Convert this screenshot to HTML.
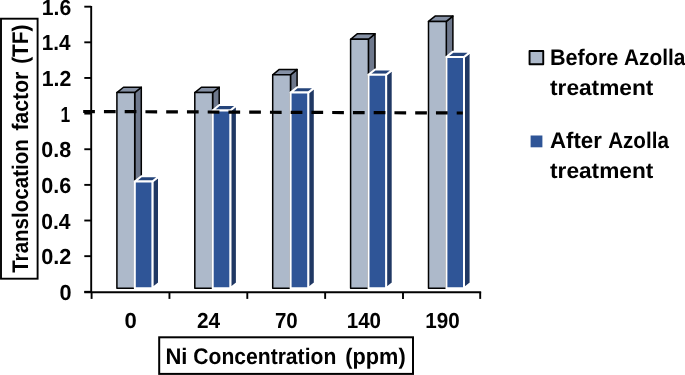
<!DOCTYPE html>
<html><head><meta charset="utf-8"><title>Translocation factor chart</title>
<style>
html,body{margin:0;padding:0;background:#fff;}
body{width:685px;height:375px;overflow:hidden;font-family:"Liberation Sans",sans-serif;}
svg{display:block;will-change:transform;opacity:0.999;filter:blur(0.4px);}
</style></head><body>
<svg width="685" height="375" viewBox="0 0 685 375" text-rendering="geometricPrecision">
<rect width="685" height="375" fill="#fff"/>
<g stroke="#000" stroke-width="1.9" fill="none">
<path d="M91.2 6 V292.95"/>
<path d="M84.3 292.2 H481.15"/>
<path d="M84.3 291.80 H91.2"/>
<path d="M84.3 256.16 H91.2"/>
<path d="M84.3 220.52 H91.2"/>
<path d="M84.3 184.88 H91.2"/>
<path d="M84.3 149.24 H91.2"/>
<path d="M84.3 113.60 H91.2"/>
<path d="M84.3 77.96 H91.2"/>
<path d="M84.3 42.32 H91.2"/>
<path d="M84.3 6.68 H91.2"/>
<path d="M91.60 292.2 V298.9"/>
<path d="M169.45 292.2 V298.9"/>
<path d="M247.30 292.2 V298.9"/>
<path d="M325.15 292.2 V298.9"/>
<path d="M403.00 292.2 V298.9"/>
<path d="M480.20 292.2 V298.9"/>
</g>
<path d="M134.70 92.61 L141.30 87.21 V282.90 L134.70 288.30 Z" fill="#6E788C" stroke="#000" stroke-width="1.5" stroke-linejoin="round"/>
<path d="M116.90 92.61 L123.50 87.21 H141.30 L134.70 92.61 Z" fill="#8590A4" stroke="#000" stroke-width="1.5" stroke-linejoin="round"/>
<path d="M116.90 92.61 H134.70 V288.30 H116.90 Z" fill="#ADB9CA" stroke="#000" stroke-width="1.5" stroke-linejoin="round"/>
<path d="M152.40 181.56 L159.00 176.16 V282.90 L152.40 288.30 Z" fill="#203864" stroke="#fff" stroke-width="2.0" stroke-linejoin="round"/>
<path d="M134.80 181.56 L141.40 176.16 H159.00 L152.40 181.56 Z" fill="#25447A" stroke="#fff" stroke-width="2.0" stroke-linejoin="round"/>
<path d="M134.80 181.56 H152.40 V288.30 H134.80 Z" fill="#2F5597" stroke="#fff" stroke-width="2.0" stroke-linejoin="round"/>
<path d="M212.60 92.61 L219.20 87.21 V282.90 L212.60 288.30 Z" fill="#6E788C" stroke="#000" stroke-width="1.5" stroke-linejoin="round"/>
<path d="M194.80 92.61 L201.40 87.21 H219.20 L212.60 92.61 Z" fill="#8590A4" stroke="#000" stroke-width="1.5" stroke-linejoin="round"/>
<path d="M194.80 92.61 H212.60 V288.30 H194.80 Z" fill="#ADB9CA" stroke="#000" stroke-width="1.5" stroke-linejoin="round"/>
<path d="M230.30 110.40 L236.90 105.00 V282.90 L230.30 288.30 Z" fill="#203864" stroke="#fff" stroke-width="2.0" stroke-linejoin="round"/>
<path d="M212.70 110.40 L219.30 105.00 H236.90 L230.30 110.40 Z" fill="#25447A" stroke="#fff" stroke-width="2.0" stroke-linejoin="round"/>
<path d="M212.70 110.40 H230.30 V288.30 H212.70 Z" fill="#2F5597" stroke="#fff" stroke-width="2.0" stroke-linejoin="round"/>
<path d="M290.50 74.82 L297.10 69.42 V282.90 L290.50 288.30 Z" fill="#6E788C" stroke="#000" stroke-width="1.5" stroke-linejoin="round"/>
<path d="M272.70 74.82 L279.30 69.42 H297.10 L290.50 74.82 Z" fill="#8590A4" stroke="#000" stroke-width="1.5" stroke-linejoin="round"/>
<path d="M272.70 74.82 H290.50 V288.30 H272.70 Z" fill="#ADB9CA" stroke="#000" stroke-width="1.5" stroke-linejoin="round"/>
<path d="M308.20 92.61 L314.80 87.21 V282.90 L308.20 288.30 Z" fill="#203864" stroke="#fff" stroke-width="2.0" stroke-linejoin="round"/>
<path d="M290.60 92.61 L297.20 87.21 H314.80 L308.20 92.61 Z" fill="#25447A" stroke="#fff" stroke-width="2.0" stroke-linejoin="round"/>
<path d="M290.60 92.61 H308.20 V288.30 H290.60 Z" fill="#2F5597" stroke="#fff" stroke-width="2.0" stroke-linejoin="round"/>
<path d="M368.40 39.24 L375.00 33.84 V282.90 L368.40 288.30 Z" fill="#6E788C" stroke="#000" stroke-width="1.5" stroke-linejoin="round"/>
<path d="M350.60 39.24 L357.20 33.84 H375.00 L368.40 39.24 Z" fill="#8590A4" stroke="#000" stroke-width="1.5" stroke-linejoin="round"/>
<path d="M350.60 39.24 H368.40 V288.30 H350.60 Z" fill="#ADB9CA" stroke="#000" stroke-width="1.5" stroke-linejoin="round"/>
<path d="M386.10 74.82 L392.70 69.42 V282.90 L386.10 288.30 Z" fill="#203864" stroke="#fff" stroke-width="2.0" stroke-linejoin="round"/>
<path d="M368.50 74.82 L375.10 69.42 H392.70 L386.10 74.82 Z" fill="#25447A" stroke="#fff" stroke-width="2.0" stroke-linejoin="round"/>
<path d="M368.50 74.82 H386.10 V288.30 H368.50 Z" fill="#2F5597" stroke="#fff" stroke-width="2.0" stroke-linejoin="round"/>
<path d="M446.30 21.45 L452.90 16.05 V282.90 L446.30 288.30 Z" fill="#6E788C" stroke="#000" stroke-width="1.5" stroke-linejoin="round"/>
<path d="M428.50 21.45 L435.10 16.05 H452.90 L446.30 21.45 Z" fill="#8590A4" stroke="#000" stroke-width="1.5" stroke-linejoin="round"/>
<path d="M428.50 21.45 H446.30 V288.30 H428.50 Z" fill="#ADB9CA" stroke="#000" stroke-width="1.5" stroke-linejoin="round"/>
<path d="M464.00 57.03 L470.60 51.63 V282.90 L464.00 288.30 Z" fill="#203864" stroke="#fff" stroke-width="2.0" stroke-linejoin="round"/>
<path d="M446.40 57.03 L453.00 51.63 H470.60 L464.00 57.03 Z" fill="#25447A" stroke="#fff" stroke-width="2.0" stroke-linejoin="round"/>
<path d="M446.40 57.03 H464.00 V288.30 H446.40 Z" fill="#2F5597" stroke="#fff" stroke-width="2.0" stroke-linejoin="round"/>
<path d="M83.2 111.5 L462.8 113.0" stroke="#000" stroke-width="3.2" stroke-dasharray="11.7 9.05" fill="none"/>
<text x="59.43" y="300.10" font-size="21.8" font-family="Liberation Sans, sans-serif" font-weight="700" textLength="12.06" lengthAdjust="spacingAndGlyphs" >0</text>
<text x="41.23" y="264.41" font-size="21.8" font-family="Liberation Sans, sans-serif" font-weight="700" textLength="30.14" lengthAdjust="spacingAndGlyphs" >0.2</text>
<text x="41.26" y="228.72" font-size="21.8" font-family="Liberation Sans, sans-serif" font-weight="700" textLength="29.35" lengthAdjust="spacingAndGlyphs" >0.4</text>
<text x="41.24" y="193.03" font-size="21.8" font-family="Liberation Sans, sans-serif" font-weight="700" textLength="30.02" lengthAdjust="spacingAndGlyphs" >0.6</text>
<text x="41.24" y="157.34" font-size="21.8" font-family="Liberation Sans, sans-serif" font-weight="700" textLength="29.91" lengthAdjust="spacingAndGlyphs" >0.8</text>
<text x="60.51" y="121.65" font-size="21.8" font-family="Liberation Sans, sans-serif" font-weight="700" textLength="9.69" lengthAdjust="spacingAndGlyphs" >1</text>
<text x="41.77" y="85.96" font-size="21.8" font-family="Liberation Sans, sans-serif" font-weight="700" textLength="29.59" lengthAdjust="spacingAndGlyphs" >1.2</text>
<text x="41.81" y="50.27" font-size="21.8" font-family="Liberation Sans, sans-serif" font-weight="700" textLength="28.8" lengthAdjust="spacingAndGlyphs" >1.4</text>
<text x="41.78" y="14.58" font-size="21.8" font-family="Liberation Sans, sans-serif" font-weight="700" textLength="29.47" lengthAdjust="spacingAndGlyphs" >1.6</text>
<text x="124.62" y="327.6" font-size="21.8" font-family="Liberation Sans, sans-serif" font-weight="700" textLength="12.29" lengthAdjust="spacingAndGlyphs" >0</text>
<text x="196.97" y="327.6" font-size="21.8" font-family="Liberation Sans, sans-serif" font-weight="700" textLength="23.18" lengthAdjust="spacingAndGlyphs" >24</text>
<text x="274.93" y="327.6" font-size="21.8" font-family="Liberation Sans, sans-serif" font-weight="700" textLength="22.84" lengthAdjust="spacingAndGlyphs" >70</text>
<text x="346.71" y="327.6" font-size="21.8" font-family="Liberation Sans, sans-serif" font-weight="700" textLength="34.33" lengthAdjust="spacingAndGlyphs" >140</text>
<text x="425.31" y="327.6" font-size="21.8" font-family="Liberation Sans, sans-serif" font-weight="700" textLength="34.44" lengthAdjust="spacingAndGlyphs" >190</text>
<rect x="159.2" y="337.3" width="253.8" height="36.6" fill="#fff" stroke="#000" stroke-width="2"/>
<text x="165.41" y="363.9" font-size="22.6" font-family="Liberation Sans, sans-serif" font-weight="700" textLength="22.03" lengthAdjust="spacingAndGlyphs" >Ni</text>
<text x="193.26" y="363.9" font-size="22.6" font-family="Liberation Sans, sans-serif" font-weight="700" textLength="143.02" lengthAdjust="spacingAndGlyphs" >Concentration</text>
<text x="345.31" y="363.9" font-size="22.6" font-family="Liberation Sans, sans-serif" font-weight="700" textLength="60.36" lengthAdjust="spacingAndGlyphs" >(ppm)</text>
<rect x="1.0" y="18.7" width="36.6" height="260" fill="#fff" stroke="#000" stroke-width="1.9"/>
<g transform="translate(27.85 0) rotate(-90)">
<text x="-272.81" y="0" font-size="22.6" font-family="Liberation Sans, sans-serif" font-weight="700" textLength="133.67" lengthAdjust="spacingAndGlyphs" >Translocation</text>
<text x="-130.47" y="0" font-size="22.6" font-family="Liberation Sans, sans-serif" font-weight="700" textLength="58.75" lengthAdjust="spacingAndGlyphs" >factor</text>
<text x="-63.84" y="0" font-size="22.6" font-family="Liberation Sans, sans-serif" font-weight="700" textLength="39.39" lengthAdjust="spacingAndGlyphs" >(TF)</text>
</g>
<rect x="529.55" y="50.95" width="13.7" height="13.3" fill="#ADB9CA" stroke="#000" stroke-width="1.9" stroke-linejoin="round"/>
<text x="550.05" y="65.2" font-size="22.6" font-family="Liberation Sans, sans-serif" font-weight="700" textLength="68.26" lengthAdjust="spacingAndGlyphs" >Before</text>
<text x="623.88" y="65.2" font-size="22.6" font-family="Liberation Sans, sans-serif" font-weight="700" textLength="61.56" lengthAdjust="spacingAndGlyphs" >Azolla</text>
<text x="550.02" y="94.6" font-size="22.0" font-family="Liberation Sans, sans-serif" font-weight="700" textLength="103.25" lengthAdjust="spacingAndGlyphs" >treatment</text>
<rect x="530.6" y="135.5" width="11.8" height="11.8" fill="#2F5597"/>
<text x="549.94" y="148.0" font-size="22.6" font-family="Liberation Sans, sans-serif" font-weight="700" textLength="51.86" lengthAdjust="spacingAndGlyphs" >After</text>
<text x="608.19" y="148.0" font-size="22.6" font-family="Liberation Sans, sans-serif" font-weight="700" textLength="60.66" lengthAdjust="spacingAndGlyphs" >Azolla</text>
<text x="550.02" y="178.4" font-size="22.0" font-family="Liberation Sans, sans-serif" font-weight="700" textLength="103.25" lengthAdjust="spacingAndGlyphs" >treatment</text>
</svg>
</body></html>
